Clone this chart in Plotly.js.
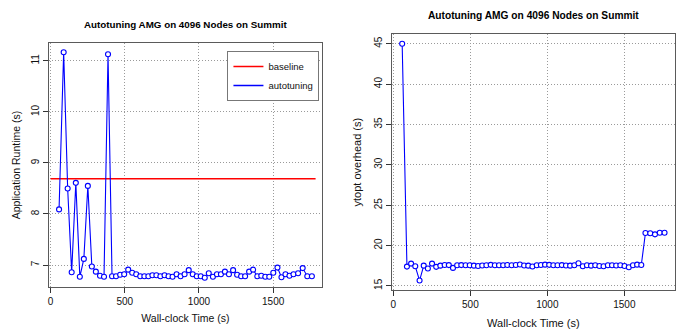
<!DOCTYPE html>
<html>
<head>
<meta charset="utf-8">
<script src="https://cdn.plot.ly/plotly-3.0.1.min.js"></script>
<style>
html,body{margin:0;padding:0;background:#fff;}
#chart{width:683px;height:329px;}
</style>
</head>
<body>
<div id="chart"></div>
<script>
// Wall-clock time of each autotuning evaluation (s)
const timeSec = [57, 88, 115, 142, 170, 197, 224, 251, 278, 305, 333, 360, 387, 414, 441, 469, 496, 523, 550, 577, 604, 632, 659, 686, 713, 740, 768, 795, 822, 849, 876, 903, 931, 958, 985, 1012, 1039, 1066, 1094, 1121, 1148, 1175, 1202, 1230, 1257, 1284, 1311, 1338, 1365, 1393, 1420, 1447, 1474, 1501, 1529, 1556, 1583, 1610, 1637, 1668, 1699, 1730, 1761];

// Application runtime for each autotuning evaluation (s)
const runtimeAutotuning = [8.09, 11.17, 8.50, 6.86, 8.61, 6.77, 7.12, 8.55, 6.97, 6.87, 6.79, 6.77, 11.13, 6.78, 6.78, 6.81, 6.82, 6.91, 6.85, 6.82, 6.78, 6.78, 6.78, 6.80, 6.80, 6.78, 6.80, 6.78, 6.77, 6.82, 6.78, 6.82, 6.90, 6.82, 6.78, 6.78, 6.75, 6.84, 6.77, 6.82, 6.82, 6.87, 6.82, 6.90, 6.81, 6.78, 6.78, 6.87, 6.91, 6.78, 6.79, 6.77, 6.77, 6.85, 6.95, 6.76, 6.82, 6.79, 6.82, 6.84, 6.94, 6.78, 6.78];

// ytopt overhead for each evaluation (s)
const ytoptOverhead = [45.0, 17.38, 17.75, 17.42, 15.65, 17.50, 17.15, 17.75, 17.35, 17.50, 17.58, 17.57, 17.22, 17.55, 17.57, 17.55, 17.55, 17.50, 17.45, 17.52, 17.55, 17.60, 17.55, 17.55, 17.55, 17.58, 17.55, 17.58, 17.65, 17.52, 17.50, 17.40, 17.55, 17.58, 17.62, 17.60, 17.55, 17.55, 17.57, 17.52, 17.50, 17.55, 17.80, 17.42, 17.55, 17.50, 17.55, 17.45, 17.42, 17.55, 17.55, 17.52, 17.55, 17.45, 17.30, 17.55, 17.62, 17.58, 21.55, 21.52, 21.38, 21.58, 21.57];

// Baseline (default configuration) runtime
const baselineTime = [0, 1786];
const baselineRuntime = [8.69, 8.69];

const titleText = 'Autotuning AMG on 4096 Nodes on Summit';
const xTitle = 'Wall-clock Time (s)';
const yTitleLeft = 'Application Runtime (s)';
const yTitleRight = 'ytopt overhead (s)';

const FONT = 'Liberation Sans, Arial, Helvetica, sans-serif';
const BLUE = '#0000ff';

const markerStyle = {symbol: 'circle', size: 5, color: '#ffffff', line: {color: BLUE, width: 1.1}};

const traces = [
  {x: baselineTime, y: baselineRuntime, xaxis: 'x', yaxis: 'y', type: 'scatter', mode: 'lines',
   name: 'baseline', line: {color: '#ff0000', width: 1.3}, showlegend: true},
  {x: timeSec, y: runtimeAutotuning, xaxis: 'x', yaxis: 'y', type: 'scatter', mode: 'lines+markers',
   name: 'autotuning', line: {color: BLUE, width: 1.1}, marker: markerStyle, showlegend: false},
  {x: [null], y: [null], xaxis: 'x', yaxis: 'y', type: 'scatter', mode: 'lines',
   name: 'autotuning', line: {color: BLUE, width: 1.3}, showlegend: true},
  {x: timeSec, y: ytoptOverhead, xaxis: 'x2', yaxis: 'y2', type: 'scatter', mode: 'lines+markers',
   name: 'ytopt overhead', line: {color: BLUE, width: 1.1}, marker: markerStyle, showlegend: false}
];

function axisBase(extra) {
  return Object.assign({
    showline: true, mirror: true, linecolor: '#5a5a5a', linewidth: 1,
    ticks: 'outside', ticklen: 5, tickwidth: 1, tickcolor: '#333333',
    showgrid: true, gridcolor: '#9a9a9a', griddash: '1px,2px', gridwidth: 1,
    zeroline: false, automargin: false,
    tickfont: {family: FONT, size: 10, color: '#111111'}
  }, extra);
}

const layout = {
  width: 683, height: 329,
  margin: {l: 0, r: 0, t: 0, b: 0},
  paper_bgcolor: '#ffffff', plot_bgcolor: '#ffffff',
  font: {family: FONT, color: '#111111'},
  xaxis: axisBase({domain: [0.0717, 0.4714], range: [-11, 1829], dtick: 500, tick0: 0, anchor: 'y',
    title: {text: xTitle, font: {family: FONT, size: 10.5}, standoff: 8}}),
  yaxis: axisBase({domain: [0.1277, 0.8693], range: [6.57, 11.35], dtick: 1, tick0: 7, tickangle: -90, anchor: 'x',
    title: {text: yTitleLeft, font: {family: FONT, size: 10.5}, standoff: 7}}),
  xaxis2: axisBase({domain: [0.5735, 0.9883], range: [-11, 1829], dtick: 500, tick0: 0, anchor: 'y2',
    title: {text: xTitle, font: {family: FONT, size: 11}, standoff: 10}}),
  yaxis2: axisBase({domain: [0.1185, 0.8957], range: [14.48, 46.17], dtick: 5, tick0: 15, tickangle: -90, anchor: 'x2',
    title: {text: yTitleRight, font: {family: FONT, size: 11}, standoff: 8}}),
  showlegend: true,
  legend: {x: 0.333, y: 0.845, xanchor: 'left', yanchor: 'top', bgcolor: '#ffffff',
    bordercolor: '#777777', borderwidth: 1, font: {family: FONT, size: 9.5}, traceorder: 'normal',
    itemwidth: 30, tracegroupgap: 0},
  annotations: [
    {text: '<b>' + titleText + '</b>', xref: 'paper', yref: 'paper', x: 0.2716, y: 0.927,
     xanchor: 'center', yanchor: 'middle', showarrow: false, font: {family: FONT, size: 9.8, color: '#000'}},
    {text: '<b>' + titleText + '</b>', xref: 'paper', yref: 'paper', x: 0.7808, y: 0.954,
     xanchor: 'center', yanchor: 'middle', showarrow: false, font: {family: FONT, size: 10.2, color: '#000'}}
  ]
};

Plotly.newPlot('chart', traces, layout, {displayModeBar: false, staticPlot: true});
</script>
</body>
</html>
